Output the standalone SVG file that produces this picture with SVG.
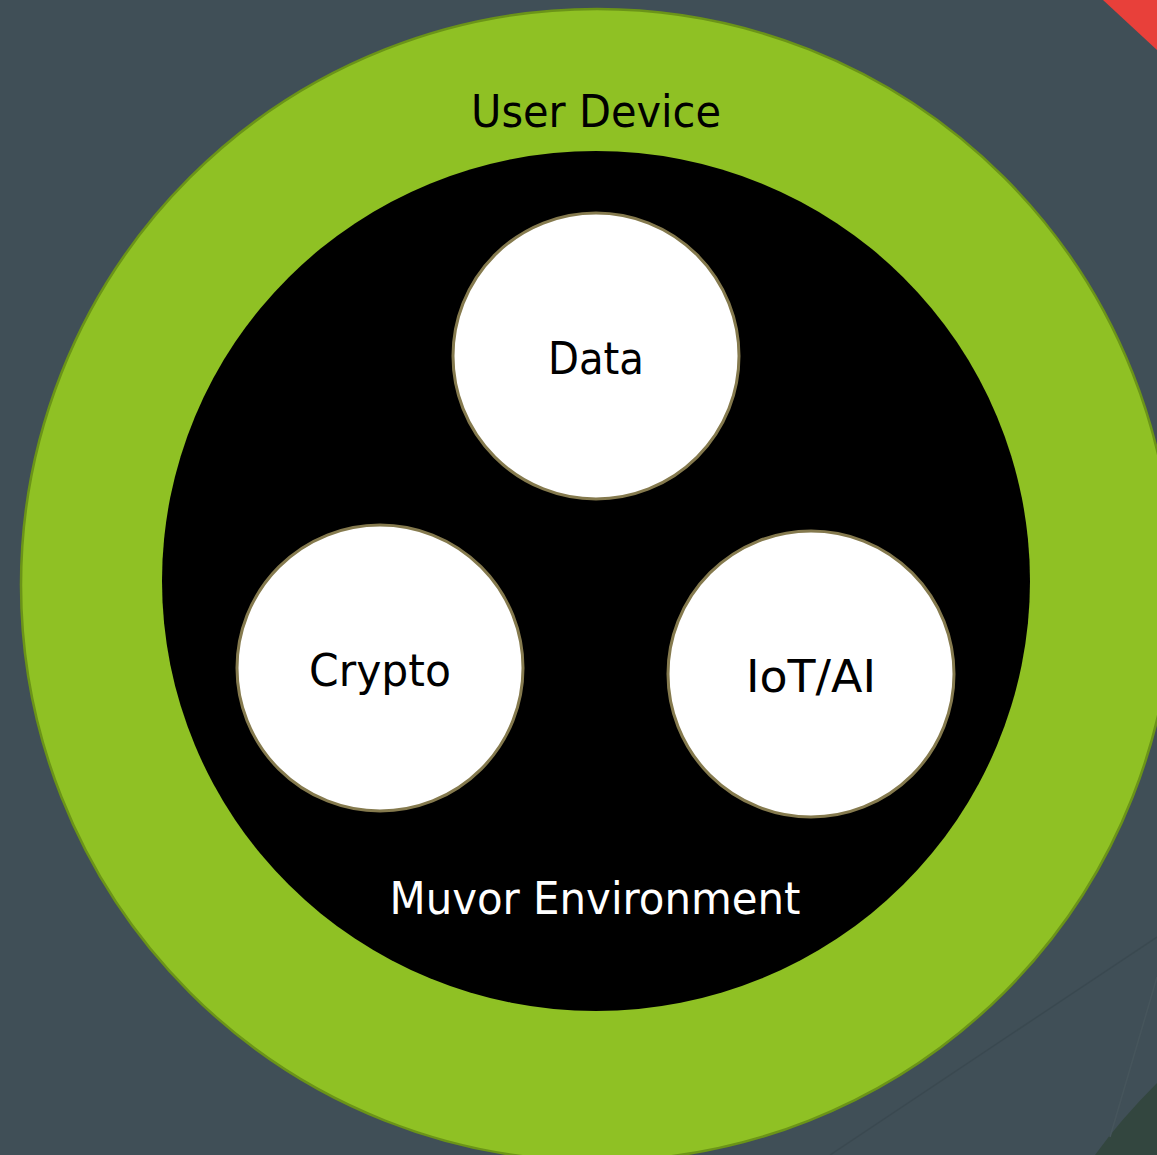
<svg xmlns="http://www.w3.org/2000/svg" width="1157" height="1155" viewBox="0 0 1157 1155">
<style>
.lbl{font-family:"DejaVu Sans","Liberation Sans",sans-serif;font-size:44px;text-anchor:middle}
.node{fill:#ffffff;stroke:#857a4e;stroke-width:3}
</style>
<rect width="1157" height="1155" fill="#404f57"/>
<path d="M1157,1083 Q1120,1120 1095,1155 L1157,1155 Z" fill="#33463f"/>
<path d="M1157,977 L1110,1137" stroke="#46555c" stroke-width="1.5" fill="none"/>
<path d="M830,1155 L1157,937" stroke="#3a4950" stroke-width="1.5" fill="none"/>
<polygon points="1103,0 1157,0 1157,50" fill="#e8403a"/>
<g id="user-device">
<circle cx="597" cy="585" r="576" fill="#8fc124" stroke="#6b9418" stroke-width="2.5"/>
<text class="lbl" x="596" y="127" fill="#000" textLength="250" lengthAdjust="spacingAndGlyphs">User Device</text>
</g>
<g id="muvor-environment">
<ellipse cx="596" cy="581" rx="434" ry="430" fill="#000"/>
<text class="lbl" x="595" y="914" fill="#fff" textLength="411" lengthAdjust="spacingAndGlyphs">Muvor Environment</text>
</g>
<g id="data">
<circle class="node" cx="596" cy="356" r="143"/>
<text class="lbl" x="596" y="374" fill="#000" textLength="96" lengthAdjust="spacingAndGlyphs">Data</text>
</g>
<g id="crypto">
<circle class="node" cx="380" cy="668" r="143"/>
<text class="lbl" x="380" y="686" fill="#000" textLength="142" lengthAdjust="spacingAndGlyphs">Crypto</text>
</g>
<g id="iot-ai">
<circle class="node" cx="811" cy="674" r="143"/>
<text class="lbl" x="811" y="692" fill="#000" textLength="130" lengthAdjust="spacingAndGlyphs">IoT/AI</text>
</g>
<g id="connectors"/>
</svg>
